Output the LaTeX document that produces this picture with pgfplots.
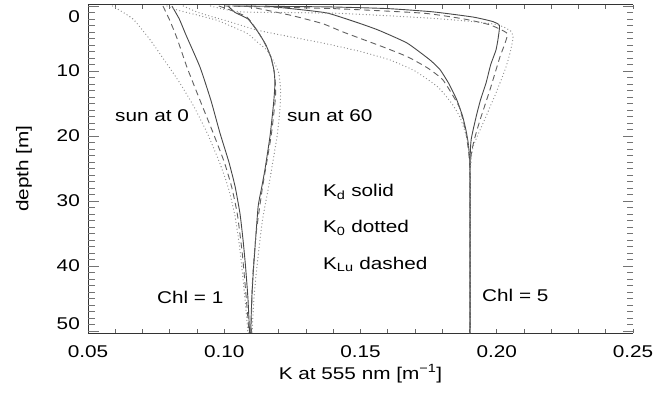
\documentclass[border=0pt]{standalone}
\usepackage{fontspec}
\setmainfont{Liberation Sans}[FakeStretch=1.22]
\usepackage{pgfplots}
\pgfplotsset{compat=1.18}
\begin{document}
\fontsize{17bp}{20bp}\selectfont
\begin{tikzpicture}
\useasboundingbox (-88bp,-65bp) rectangle (578bp,333bp);
\pgfplotsset{
  kd/.style={draw=black!72, line width=0.9bp, no marks, smooth, tension=0.3},
  klu/.style={draw=black!62, line width=0.9bp, dash pattern=on 6bp off 4bp, no marks, smooth, tension=0.3},
  ko/.style={draw=black!45, line width=1.3bp, line cap=round, dash pattern=on 0pt off 3.4bp, no marks, smooth, tension=0.3},
}
% main axis: data, frame (left, top, bottom), x ticks
\begin{axis}[
  scale only axis, width=545bp, height=328.5bp,
  xmin=0.05, xmax=0.25, ymin=-0.23, ymax=50.3,
  y dir=reverse,
  axis x line*=box, axis y line*=left,
  axis line style={draw=black!80, line width=0.9bp},
  ytick=\empty,
  xtick={0.05,0.10,0.15,0.20,0.25},
  minor x tick num=4,
  tick align=inside,
  major tick length=4bp, minor tick length=4bp,
  tick style={draw=black!60, line width=0.7bp},
  /pgf/number format/assume math mode=true,
  xticklabel style={/pgf/number format/.cd, fixed, fixed zerofill, precision=2, /tikz/.cd, anchor=base, yshift=-24bp},
  xlabel={K at 555 nm [m\textsuperscript{−1}]},
  every axis x label/.style={at={(axis description cs:0.5,0)}, anchor=base, yshift=-46bp},
  ylabel={depth [m]},
  every axis y label/.style={at={(axis description cs:-0.1174,0.5)}, rotate=90, anchor=center},
  clip=true,
]
% Chl = 1, sun at 0
\addplot[kd] coordinates {(0.0808,0) (0.0835,2) (0.0860,4.5) (0.0911,9.4) (0.0951,14.5) (0.0984,19.5) (0.1017,24) (0.1040,27.8) (0.1058,32) (0.1069,36) (0.1078,40) (0.1087,45) (0.1093,50.3)};
\addplot[klu] coordinates {(0.0775,0) (0.0800,2.2) (0.0827,5) (0.0863,9.4) (0.0911,14.5) (0.0959,19.5) (0.1000,24) (0.1027,27.8) (0.1048,32) (0.1066,38) (0.1079,44) (0.1091,50.3)};
\addplot[ko] coordinates {(0.0590,0) (0.0665,2) (0.0728,5.2) (0.0783,8.5) (0.0838,11.9) (0.0889,15.5) (0.0937,19.5) (0.0982,24) (0.1014,27.8) (0.1038,32) (0.1053,36) (0.1064,40) (0.1076,45) (0.1087,50.3)};
% Chl = 1, sun at 60
\addplot[kd] coordinates {(0.1014,0) (0.1040,1) (0.1087,2) (0.1124,4) (0.1153,6) (0.1172,8) (0.1183,10) (0.1186,12) (0.1181,15) (0.1168,20) (0.1150,25) (0.1137,28) (0.1124,31) (0.1108,40) (0.1101,45) (0.1097,50.3)};
\addplot[klu] coordinates {(0.0980,0) (0.1083,1.7) (0.1142,5.2) (0.1172,8) (0.1186,10.9) (0.1188,14) (0.1172,20) (0.1140,28) (0.1117,35) (0.1104,42) (0.1098,50.3)};
\addplot[ko] coordinates {(0.0790,0) (0.0826,0.6) (0.0973,2.2) (0.1083,4.2) (0.1120,5.5) (0.1157,6.8) (0.1179,8.3) (0.1200,10.3) (0.1207,13) (0.1204,16) (0.1194,20) (0.1162,28) (0.1140,33) (0.1120,40) (0.1109,45) (0.1102,50.3)};
% Chl = 5, sun at 0
\addplot[kd] coordinates {(0.1150,0) (0.1289,0.6) (0.1380,1.1) (0.1485,2.5) (0.1565,3.7) (0.1671,5.7) (0.1755,8.3) (0.1792,9.8) (0.1825,12) (0.1854,14.5) (0.1875,17) (0.1887,19.1) (0.1895,21) (0.1900,23.2) (0.1902,26) (0.1902,50.3)};
\addplot[klu] coordinates {(0.1080,0) (0.1241,1.4) (0.1360,2.7) (0.1436,4) (0.1583,6.3) (0.1672,7.8) (0.1745,9.5) (0.1803,11.4) (0.1862,15.5) (0.1887,19.5) (0.1898,23) (0.1902,27) (0.1902,50.3)};
\addplot[ko] coordinates {(0.0850,0) (0.0911,1.1) (0.1010,2.3) (0.1120,3.7) (0.1250,4.8) (0.1362,5.7) (0.1500,7) (0.1608,8.3) (0.1700,10) (0.1785,12.5) (0.1835,15) (0.1865,17.1) (0.1892,20.6) (0.1901,25) (0.1902,50.3)};
% Chl = 5, sun at 60
\addplot[kd] coordinates {(0.1030,0) (0.1250,0.08) (0.1400,0.15) (0.1600,0.4) (0.1766,0.9) (0.1913,1.7) (0.1986,2.4) (0.2010,3) (0.2005,5) (0.1997,6.8) (0.1978,9) (0.1961,11.8) (0.1940,14.5) (0.1924,17.1) (0.1906,20.6) (0.1902,24.8) (0.1902,50.3)};
\addplot[klu] coordinates {(0.1000,0) (0.1400,0.4) (0.1730,1.1) (0.1880,2) (0.1975,2.9) (0.2038,4.2) (0.2028,6) (0.2012,7.8) (0.1975,12.9) (0.1939,17.5) (0.1915,21) (0.1903,25) (0.1902,50.3)};
\addplot[ko] coordinates {(0.0950,0) (0.1058,0.9) (0.1400,1.1) (0.1600,1.5) (0.1766,1.9) (0.1913,2.4) (0.2005,2.9) (0.2050,3.8) (0.2060,4.8) (0.2050,7) (0.2034,9.4) (0.1997,13.4) (0.1950,18) (0.1913,21.7) (0.1903,26) (0.1902,50.3)};
% annotations
\node[anchor=base west, inner sep=0pt] at (axis cs:0.0599,17.7) {sun at 0};
\node[anchor=base west, inner sep=0pt] at (axis cs:0.1230,17.7) {sun at 60};
\node[anchor=base west, inner sep=0pt] at (axis cs:0.1362,29.3) {K\textsubscript{d} solid};
\node[anchor=base west, inner sep=0pt] at (axis cs:0.1362,34.9) {K\textsubscript{0} dotted};
\node[anchor=base west, inner sep=0pt] at (axis cs:0.1362,40.5) {K\textsubscript{Lu} dashed};
\node[anchor=base west, inner sep=0pt] at (axis cs:0.0753,45.7) {Chl = 1};
\node[anchor=base west, inner sep=0pt] at (axis cs:0.1946,45.4) {Chl = 5};
\end{axis}
% y ticks on both sides, no vertical frame lines drawn here
\begin{axis}[
  scale only axis, width=545bp, height=328.5bp,
  xmin=0.05, xmax=0.25, ymin=-0.23, ymax=50.3,
  y dir=reverse,
  hide x axis,
  y axis line style={draw=none},
  ytick={0,10,20,30,40,50},
  yticklabels={,10,20,30,40,},
  minor y tick num=9,
  tick align=inside,
  major tick length=10.5bp, minor tick length=6.5bp,
  tick style={draw=black!55, line width=0.8bp},
  yticklabel style={anchor=east, inner sep=0pt, xshift=-8bp},
  extra y ticks={1.7,48.8},
  extra y tick labels={0,50},
  extra y tick style={tick style={draw=none}},
  /pgf/number format/assume math mode=true,
]
\end{axis}
\end{tikzpicture}
\end{document}
